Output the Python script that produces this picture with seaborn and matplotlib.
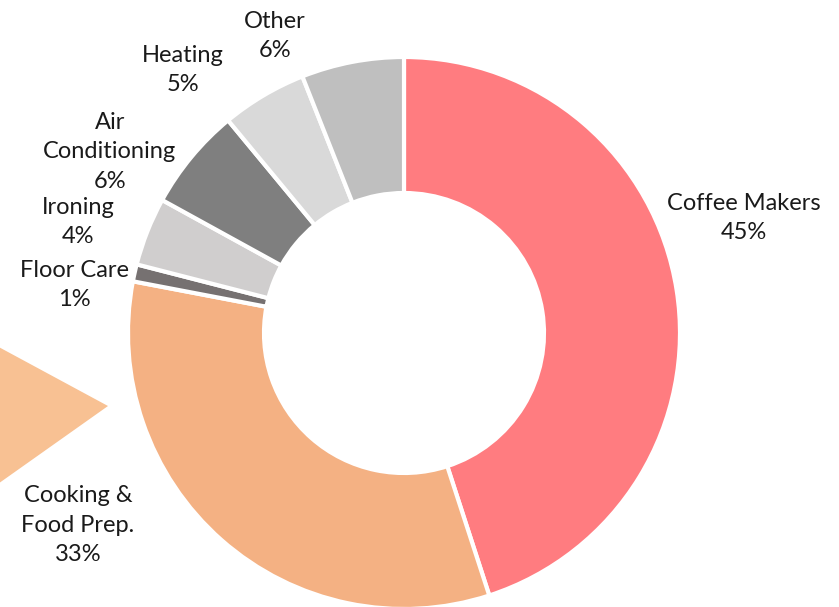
import matplotlib
matplotlib.use("Agg")
import matplotlib.pyplot as plt
import seaborn as sns
from matplotlib.patches import Polygon

sns.set_theme(style="white")
plt.rcParams["font.family"] = ["Lato", "DejaVu Sans"]

# Data
categories = ["Coffee Makers", "Cooking &\nFood Prep.", "Floor Care", "Ironing",
              "Air\nConditioning", "Heating", "Other"]
shares = [45, 33, 1, 4, 6, 5, 6]
colors = ["#FF7C80", "#F4B183", "#767171", "#D0CECE", "#7F7F7F", "#D9D9D9", "#BFBFBF"]

# label anchor points (pixel coords, y from top)
label_pos = [(744, 218), (78, 525), (74, 285), (78, 222), (110, 152), (183, 70), (275, 36)]

W, H = 839, 607
fig = plt.figure(figsize=(W / 100, H / 100), dpi=100)
ax = fig.add_axes([0, 0, 1, 1])
ax.set_xlim(0, W)
ax.set_ylim(0, H)
ax.set_aspect("equal")
ax.axis("off")

# arrow shape on the left
ax.add_patch(Polygon([(-5, H - 345), (108, H - 406), (-5, H - 486)],
                     closed=True, color="#F8C193", lw=0))

ax.pie(shares, colors=colors, startangle=90, counterclock=False,
       center=(404, H - 333), radius=276,
       wedgeprops=dict(width=136, edgecolor="white", linewidth=3))
ax.set_xlim(0, W)
ax.set_ylim(0, H)

for name, val, (x, y) in zip(categories, shares, label_pos):
    ax.text(x, H - y, f"{name}\n{val}%", ha="center", va="center",
            fontsize=17, color="#1a1a1a", linespacing=1.5)

fig.savefig("out.png", dpi=100, facecolor="white")
